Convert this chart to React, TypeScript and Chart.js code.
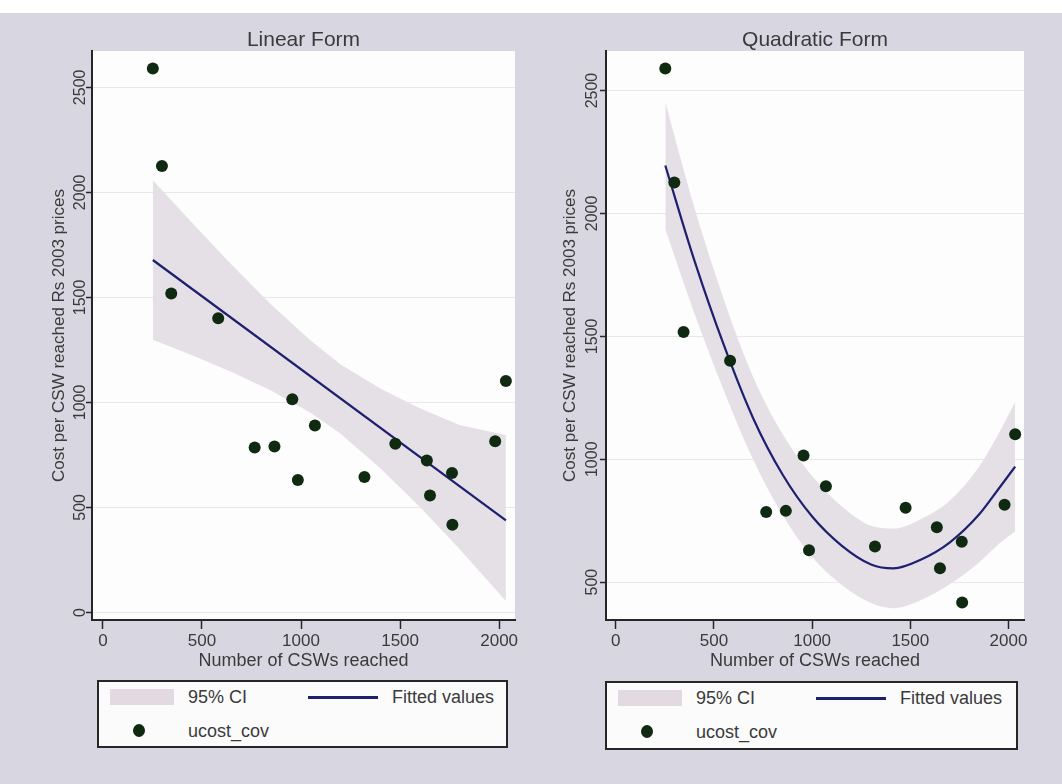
import React, { useEffect, useRef } from "react";
import { Chart, registerables } from "chart.js";

Chart.register(...registerables);

// ---- Data ----
// Observed points (Number of CSWs reached, cost per CSW reached)
const pointX = [252, 298, 345, 582, 766, 866, 956, 984, 1070, 1320, 1476, 1635, 1651, 1762, 1764, 1980, 2034];
const pointY = [2590, 2126, 1518, 1401, 785, 790, 1015, 630, 890, 645, 803, 723, 557, 664, 417, 815, 1102];

// Linear form: fitted line and its 95% CI band
const linFitX = [252, 2034];
const linFitY = [1678, 438];
const linBandX = [252, 450, 650, 850, 1050, 1200, 1400, 1600, 1800, 2034];
const linBandUpper = [2058, 1855, 1655, 1465, 1293, 1181, 1066, 972, 892, 845];
const linBandLower = [1298, 1225, 1145, 1055, 949, 851, 686, 502, 302, 55];

// Quadratic form: fitted curve and its 95% CI band
const quadX = [252, 400, 550, 700, 850, 1000, 1150, 1300, 1414, 1550, 1700, 1850, 1950, 2034];
const quadFit = [2195, 1809, 1465, 1166, 937, 767, 649, 572, 556, 590, 661, 775, 880, 970];
const quadUpper = [2453, 2024, 1650, 1334, 1102, 932, 809, 729, 718, 755, 831, 970, 1105, 1234];
const quadLower = [1937, 1594, 1280, 998, 772, 602, 489, 415, 394, 425, 491, 580, 655, 706];

// Tick labels
const xTicks = [0, 500, 1000, 1500, 2000];
const linYTicks = [0, 500, 1000, 1500, 2000, 2500];
const quadYTicks = [500, 1000, 1500, 2000, 2500];

const titles = ["Linear Form", "Quadratic Form"];
const xTitle = "Number of CSWs reached";
const yTitle = "Cost per CSW reached Rs 2003 prices";
const legendLabels = ["95% CI", "Fitted values", "ucost_cov"];

// ---- Styles ----
const FONT = "'Liberation Sans', Arial, Helvetica, sans-serif";
const TEXT = "#3a3a3a";
const BAND = "rgb(229,224,230)";
const LINE = "#1f1f70";
const DOT = "#0f2a10";
const AXIS = "#262626";
const PAGE_BG = "#d8d7e1";

const whitePlot = {
  id: "whitePlot",
  beforeDraw(chart: any) {
    const { ctx, chartArea: a } = chart;
    ctx.save();
    ctx.fillStyle = "#fdfdfd";
    ctx.fillRect(a.left, a.top, a.right - a.left, a.bottom - a.top);
    ctx.restore();
  },
};

type Panel = {
  title: string;
  bandX: number[];
  upper: number[];
  lower: number[];
  fitX: number[];
  fitY: number[];
  smooth: boolean;
  xMin: number;
  xMax: number;
  yMin: number;
  yMax: number;
  yTicks: number[];
  yAxisWidth: number;
  padRight: number;
  yTickPad: number;
  yTitlePad: number;
};

const toXY = (xs: number[], ys: number[]) => xs.map((x, i) => ({ x, y: ys[i] }));

function buildConfig(p: Panel): any {
  const interp = p.smooth ? "monotone" : "default";
  return {
    type: "scatter",
    data: {
      datasets: [
        {
          label: legendLabels[2],
          data: toXY(pointX, pointY),
          showLine: false,
          pointRadius: 6,
          pointHoverRadius: 6,
          pointBackgroundColor: DOT,
          pointBorderColor: DOT,
          pointBorderWidth: 0,
        },
        {
          label: legendLabels[1],
          data: toXY(p.fitX, p.fitY),
          showLine: true,
          borderColor: LINE,
          borderWidth: 2.2,
          pointRadius: 0,
          fill: false,
          cubicInterpolationMode: interp,
        },
        {
          label: legendLabels[0],
          data: toXY(p.bandX, p.upper),
          showLine: true,
          borderWidth: 0,
          borderColor: "rgba(0,0,0,0)",
          backgroundColor: BAND,
          pointRadius: 0,
          fill: "+1",
          cubicInterpolationMode: interp,
        },
        {
          label: "lower",
          data: toXY(p.bandX, p.lower),
          showLine: true,
          borderWidth: 0,
          borderColor: "rgba(0,0,0,0)",
          pointRadius: 0,
          fill: false,
          cubicInterpolationMode: interp,
        },
      ],
    },
    options: {
      animation: false,
      responsive: false,
      maintainAspectRatio: false,
      events: [],
      layout: { padding: { left: 0, right: p.padRight, top: 30, bottom: 0 } },
      plugins: {
        legend: { display: false },
        tooltip: { enabled: false },
        title: {
          display: true,
          fullSize: false,
          text: p.title,
          color: TEXT,
          font: { family: FONT, size: 21, weight: "normal", lineHeight: 1 },
          padding: 0,
        },
      },
      scales: {
        x: {
          type: "linear",
          min: p.xMin,
          max: p.xMax,
          afterFit: (s: any) => {
            s.height = 60;
          },
          afterBuildTicks: (s: any) => {
            s.ticks = xTicks.map((v) => ({ value: v }));
          },
          grid: {
            drawOnChartArea: false,
            drawTicks: true,
            tickLength: 9,
            tickColor: AXIS,
            tickWidth: 1.5,
          },
          border: { display: true, color: AXIS, width: 2 },
          ticks: {
            color: TEXT,
            font: { family: FONT, size: 17 },
            padding: 2,
            minRotation: 0,
            maxRotation: 0,
            autoSkip: false,
            includeBounds: false,
            callback: (v: any) => String(v),
          },
          title: {
            display: true,
            text: xTitle,
            color: TEXT,
            font: { family: FONT, size: 18 },
            padding: { top: 0, bottom: 8 },
          },
        },
        y: {
          type: "linear",
          min: p.yMin,
          max: p.yMax,
          afterFit: (s: any) => {
            s.width = p.yAxisWidth;
          },
          afterBuildTicks: (s: any) => {
            s.ticks = p.yTicks.map((v) => ({ value: v }));
          },
          grid: {
            color: "#e8e8e8",
            lineWidth: 1,
            drawTicks: true,
            tickLength: 6,
            tickColor: AXIS,
            tickWidth: 1.5,
          },
          border: { display: true, color: AXIS, width: 2 },
          ticks: {
            color: TEXT,
            font: { family: FONT, size: 16 },
            padding: p.yTickPad,
            minRotation: 90,
            maxRotation: 90,
            crossAlign: "center",
            autoSkip: false,
            includeBounds: false,
            callback: (v: any) => String(v),
          },
          title: {
            display: true,
            text: yTitle,
            color: TEXT,
            font: { family: FONT, size: 17 },
            padding: { top: p.yTitlePad, bottom: 0 },
          },
        },
      },
    },
    plugins: [whitePlot],
  };
}

const panels: Panel[] = [
  {
    title: titles[0],
    bandX: linBandX,
    upper: linBandUpper,
    lower: linBandLower,
    fitX: linFitX,
    fitY: linFitY,
    smooth: false,
    xMin: -55,
    xMax: 2080,
    yMin: -36,
    yMax: 2673,
    yTicks: linYTicks,
    yAxisWidth: 92,
    padRight: 16,
    yTickPad: -12,
    yTitlePad: 49,
  },
  {
    title: titles[1],
    bandX: quadX,
    upper: quadUpper,
    lower: quadLower,
    fitX: quadX,
    fitY: quadFit,
    smooth: true,
    xMin: -50,
    xMax: 2079,
    yMin: 346,
    yMax: 2661,
    yTicks: quadYTicks,
    yAxisWidth: 75,
    padRight: 38,
    yTickPad: -10,
    yTitlePad: 29,
  },
];

function ChartPanel({ panel, left }: { panel: Panel; left: number }) {
  const ref = useRef<HTMLCanvasElement | null>(null);
  useEffect(() => {
    if (!ref.current) return;
    const chart = new Chart(ref.current, buildConfig(panel));
    return () => chart.destroy();
  }, [panel]);
  return (
    <canvas
      ref={ref}
      width={531}
      height={680}
      style={{ position: "absolute", left, top: 0, width: 531, height: 680 }}
    />
  );
}

function LegendBox({ left, top, width, height }: { left: number; top: number; width: number; height: number }) {
  const text: React.CSSProperties = {
    position: "absolute",
    fontFamily: FONT,
    fontSize: 18,
    color: TEXT,
    lineHeight: "20px",
    whiteSpace: "nowrap",
  };
  return (
    <div
      style={{
        position: "absolute",
        left,
        top,
        width,
        height,
        boxSizing: "border-box",
        border: `2px solid ${AXIS}`,
        background: "#fbfbfc",
      }}
    >
      <div style={{ position: "absolute", left: 11, top: 7, width: 64, height: 16, background: "rgb(226,218,224)" }} />
      <span style={{ ...text, left: 89, top: 5 }}>{legendLabels[0]}</span>
      <div style={{ position: "absolute", left: 209, top: 14, width: 70, height: 2.5, background: LINE }} />
      <span style={{ ...text, left: 293, top: 5 }}>{legendLabels[1]}</span>
      <div
        style={{
          position: "absolute",
          left: 34,
          top: 42,
          width: 12,
          height: 13,
          borderRadius: "50%",
          background: DOT,
        }}
      />
      <span style={{ ...text, left: 89, top: 39 }}>{legendLabels[2]}</span>
    </div>
  );
}

export default function App() {
  return (
    <div
      style={{
        position: "fixed",
        left: 0,
        top: 0,
        width: 1062,
        height: 784,
        background: PAGE_BG,
        overflow: "hidden",
      }}
    >
      <div style={{ position: "absolute", left: 0, top: 0, width: 1062, height: 13, background: "#ffffff" }} />
      <ChartPanel panel={panels[0]} left={0} />
      <ChartPanel panel={panels[1]} left={531} />
      <LegendBox left={97} top={680} width={411} height={68} />
      <LegendBox left={605} top={681} width={413} height={69} />
    </div>
  );
}
